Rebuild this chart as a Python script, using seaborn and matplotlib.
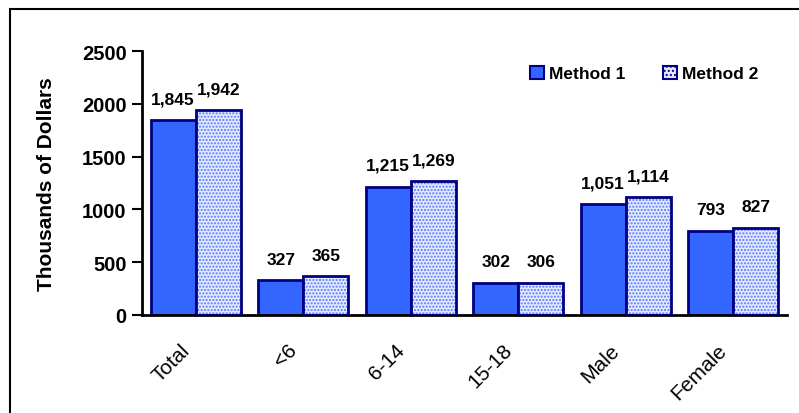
import matplotlib
matplotlib.use("Agg")
import matplotlib.pyplot as plt
from matplotlib.patches import Rectangle, Patch
from matplotlib.transforms import ScaledTranslation
import seaborn as sns
import pandas as pd

categories = ["Total", "<6", "6-14", "15-18", "Male", "Female"]
method1 = [1845, 327, 1215, 302, 1051, 793]
method2 = [1942, 365, 1269, 306, 1114, 827]
series_names = ["Method 1", "Method 2"]
y_ticks = [0, 500, 1000, 1500, 2000, 2500]

df = pd.DataFrame({
    "group": categories * 2,
    "method": [series_names[0]] * len(categories) + [series_names[1]] * len(categories),
    "value": method1 + method2,
})

sns.set_style("white")
plt.rcParams["font.family"] = ["Liberation Sans", "DejaVu Sans"]
plt.rcParams["text.color"] = "black"
plt.rcParams["xtick.color"] = "black"
plt.rcParams["ytick.color"] = "black"
plt.rcParams["axes.labelcolor"] = "black"
plt.rcParams["hatch.linewidth"] = 1.0

solid = "#3366ff"
navy = "#000080"
dot_bg = "#e4eaff"
dot_fg = "#5577ff"

fig = plt.figure(figsize=(7.99, 4.14), dpi=100)
ax = fig.add_axes([142 / 799, 1 - 316 / 414, (787 - 142) / 799, (316 - 52) / 414])

sns.barplot(data=df, x="group", y="value", hue="method", order=categories,
            hue_order=series_names, palette=[solid, dot_bg], width=0.84,
            gap=0, edgecolor=navy, linewidth=2, saturation=1, legend=False,
            errorbar=None, ax=ax)

bars = [p for p in ax.patches if isinstance(p, Rectangle)]
n = len(categories)
m1_bars, m2_bars = bars[:n], bars[n:]

# dotted fill for the second method, outline drawn separately in navy
for p in m2_bars:
    p.set_hatch(".....")
    p.set_edgecolor(dot_fg)
    p.set_linewidth(0)
    ax.add_patch(Rectangle(p.get_xy(), p.get_width(), p.get_height(),
                           fill=False, edgecolor=navy, linewidth=2, zorder=3))

for group_bars, values in ((m1_bars, method1), (m2_bars, method2)):
    for p, v in zip(group_bars, values):
        ax.annotate(f"{v:,}", (p.get_x() + p.get_width() / 2, v), xytext=(0, 10),
                    textcoords="offset points", ha="center", va="bottom",
                    fontsize=12.5, fontweight="bold")

ax.set_xlim(-0.5, len(categories) - 0.5)
ax.set_ylim(0, 2500)
ax.set_yticks(y_ticks)
ax.set_yticklabels([str(t) for t in y_ticks], fontsize=14.5, fontweight="bold")
ax.set_xticks(range(n))
ax.set_xticklabels(categories, rotation=45, ha="right", rotation_mode="anchor",
                   fontsize=15)
ax.tick_params(axis="y", direction="out", length=7, width=1.5, pad=4, left=True)
ax.tick_params(axis="x", length=0, pad=18)
shift = ScaledTranslation(-16 / 100, 0, fig.dpi_scale_trans)
for lbl in ax.get_xticklabels():
    lbl.set_transform(lbl.get_transform() + shift)
ax.set_xlabel("")
ax.set_ylabel("Thousands of Dollars", fontsize=15, fontweight="bold", labelpad=19)

for side in ["top", "right"]:
    ax.spines[side].set_visible(False)
for side in ["left", "bottom"]:
    ax.spines[side].set_linewidth(2)
    ax.spines[side].set_color("black")

handles = [
    Patch(facecolor=solid, edgecolor=navy, linewidth=1.5, label=series_names[0]),
    Patch(facecolor=dot_bg, edgecolor=navy, linewidth=1.5, hatch="....",
          label=series_names[1]),
]
fig.legend(handles=handles, loc="upper left", bbox_to_anchor=(514 / 799, 1 - 51 / 414),
           ncol=2, frameon=False, handlelength=0.8, handleheight=0.8,
           handletextpad=0.3, columnspacing=2.2,
           prop={"weight": "bold", "size": 12.5})

# outer frame of the chart area
fig.patches.append(Rectangle((10 / 799, -0.1), 1.2, 1 - 10 / 414 + 0.1,
                             transform=fig.transFigure, fill=False,
                             edgecolor="black", linewidth=1.5))

fig.savefig("out.png", dpi=100)
